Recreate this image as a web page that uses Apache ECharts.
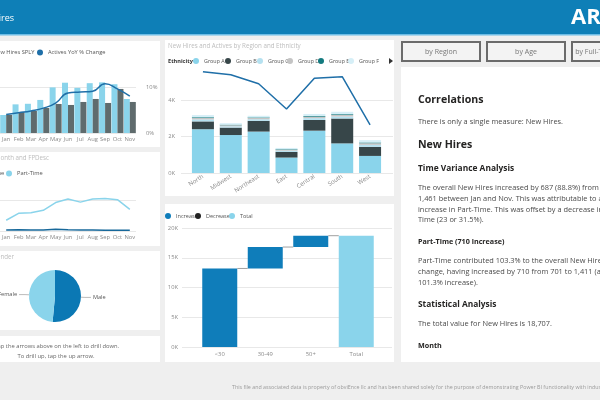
<!DOCTYPE html>
<html><head><meta charset="utf-8">
<script src="https://cdn.jsdelivr.net/npm/echarts@6/dist/echarts.min.js"></script>
<style>html,body{margin:0;padding:0;background:#efefef;}#c{width:600px;height:400px;}</style>
</head><body><div id="c"></div>
<script>
// ---- data ----
const months = ['Jan','Feb','Mar','Apr','May','Jun','Jul','Aug','Sep','Oct','Nov'];
const newHires = [774,1230,1255,1420,1960,2160,1940,2140,2175,2095,1461];
const newHiresSPLY = [780,900,946,1075,1247,1204,1333,1462,1290,1892,1333];
const activesYoY = [4.0,4.4,4.8,5.4,6.5,8.7,8.9,9.1,10.7,9.6,8.0];
const fullTime = [73,80,65,70,110,80,60,60,55,55,50];
const partTime = [701,1150,1190,1350,1850,2080,1880,2080,2120,2040,1411];
const regions = ['North','Midwest','Northeast','East','Central','South','West'];
const groupA = [2410,2090,2280,850,2330,1630,940];
const groupB = [430,410,590,310,590,1370,500];
const groupC = [110,70,90,70,100,110,110];
const groupD = [80,60,70,50,80,90,90];
const groupE = [40,30,30,30,40,40,40];
const groupF = [120,80,90,70,110,130,130];
const activesByRegion = [5580,5410,4910,3520,5220,5300,2650];
const ageBands = ['<30','30-49','50+','Total'];
const ageHires = [13200,3600,1907];
const genders = ['Male','Female'];
const genderHires = [9630,9077];
const yoyTicks = [0,10];

// ---- derived ----
const FONT = '"Open Sans","Noto Sans","DejaVu Sans",sans-serif';
let cum = 0; const wfBase = [], wfInc = [], wfConn = [];
ageHires.forEach((v,i)=>{ wfBase.push(cum); wfInc.push(v); cum += v; wfConn.push([i,cum]); });
const wfTotal = cum;
wfBase.push('-'); wfInc.push('-');
const totalArr = ageHires.map(()=> '-').concat([wfTotal]);
const groups = [['Group A',groupA,'#8ad4eb'],['Group B',groupB,'#374649'],['Group C',groupC,'#b5e1f0'],
  ['Group D',groupD,'#c4c4c4'],['Group E',groupE,'#137a7f'],['Group F',groupF,'#d6eff7']];

function txt(text,x,y,size,color,opt){
  opt = opt||{};
  return {type:'text', x:x, y:y, z:100, silent:true, style:{text:text, fill:color,
    font:(opt.bold?'bold ':'')+size+'px '+FONT, textAlign:opt.align||'left', textVerticalAlign:'middle'}};
}
function rect(x,y,w,h,fill,stroke,lw){
  return {type:'rect', z:-5, silent:true, shape:{x:x,y:y,width:w,height:h},
    style:{fill:fill, stroke:stroke||null, lineWidth:lw||0}};
}

const bodyC = '#4a4a4a', headC = '#252423';
const BS = 7.4;
const graphics = [
  rect(0,0,600,34,'#0e7fb7'), rect(0,34,600,1.5,'#6dbde6'),
  rect(0,41,160,106,'#fff'), rect(0,152,160,94,'#fff'), rect(0,251,160,79,'#fff'), rect(0,336,160,26,'#fff'),
  rect(165,40,229,156,'#fff'), rect(165,204,229,158,'#fff'), rect(401,67,199,295,'#fff'),
  rect(402,42,78,19,'#f3f3f3','#6b6b6b',2), rect(487,42,78,19,'#f3f3f3','#6b6b6b',2), rect(572,42,80,19,'#f3f3f3','#6b6b6b',2),
  txt('New Hires',14,18,9,'#fff',{align:'right'}),
  txt('AR',571,18,22,'#fff',{bold:true}),
  txt('by Region',441,52,7,'#777',{align:'center'}),
  txt('by Age',526,52,7,'#777',{align:'center'}),
  txt('by Full-Time/Part-Time',612,52,7,'#777',{align:'center'}),
  txt('New Hires by Month and FPDesc',49,158,6.2,'#bdbdbd',{align:'right'}),
  txt('New Hires by Gender',14,257,6.2,'#bdbdbd',{align:'right'}),
  txt('Tap the arrows above on the left to drill down.',119,346,5.8,'#666',{align:'right'}),
  txt('To drill up, tap the up arrow.',56,356,5.8,'#666',{align:'center'}),
  txt('New Hires and Actives by Region and Ethnicity',168,46,6.2,'#bdbdbd'),
  txt('Ethnicity',168,61,5.6,'#333',{bold:true}),
  {type:'polygon', z:100, silent:true, shape:{points:[[389,58],[393,61],[389,64]]}, style:{fill:'#333'}},
  txt('Correlations',418,100,10.6,headC,{bold:true}),
  txt('There is only a single measure: New Hires.',418,122,BS,bodyC),
  txt('New Hires',418,145,10.6,headC,{bold:true}),
  txt('Time Variance Analysis',418,169,8.4,headC,{bold:true}),
  txt('The overall New Hires increased by 687 (88.8%) from 774 to',418,188,BS,bodyC),
  txt('1,461 between Jan and Nov. This was attributable to an',418,199,BS,bodyC),
  txt('increase in Part-Time. This was offset by a decrease in Full-',418,209.5,BS,bodyC),
  txt('Time (23 or 31.5%).',418,220,BS,bodyC),
  txt('Part-Time (710 increase)',418,242,7.2,headC,{bold:true}),
  txt('Part-Time contributed 103.3% to the overall New Hires',418,261,BS,bodyC),
  txt('change, having increased by 710 from 701 to 1,411 (a',418,272,BS,bodyC),
  txt('101.3% increase).',418,283,BS,bodyC),
  txt('Statistical Analysis',418,305,8.4,headC,{bold:true}),
  txt('The total value for New Hires is 18,707.',418,324,BS,bodyC),
  txt('Month',418,346,7.2,headC,{bold:true}),
  txt('This file and associated data is property of obviEnce llc and has been shared solely for the purpose of demonstrating Power BI functionality with industry sample data.',232,387,5.3,'#9a9a9a')
];

const lab = {fontSize:5.8, color:'#8a8a8a', fontFamily:FONT};
const catX = (grid, data, extra) => Object.assign({type:'category', gridIndex:grid, data:data, boundaryGap:true,
  axisLine:{show:false}, axisTick:{show:false}, axisLabel:Object.assign({margin:3, interval:0}, lab)}, extra||{});
const hiddenY = (grid, max) => ({type:'value', gridIndex:grid, min:0, max:max, show:false});
const kFmt = v => (v/1000)+'K';
const split = {show:true, lineStyle:{color:'#e8e8e8', width:1}};
const leg = (name, left, top, fs, iw) => ({data:[name], left:left, top:top, padding:0, icon:'circle',
  itemWidth:iw||6, itemHeight:iw||6, itemGap:0, textStyle:{fontSize:fs, color:'#555'}});

const option = {
  animation:false,
  backgroundColor:'#efefef',
  textStyle:{fontFamily:FONT},
  graphic:{elements:graphics},
  legend:[
    leg('New Hires', -64, 49.5, 5.7),
    leg('New Hires SPLY', -18, 49.5, 5.7),
    leg('Actives YoY % Change', 37, 49.5, 5.7),
    leg('Full-Time', -31, 170.5, 5.7),
    leg('Part-Time', 6, 170.5, 5.7),
    ...groups.map((g,i)=> leg(g[0], [193,225,257,287,318,348][i], 58, 5.4)),
    leg('Increase', 165, 213, 5.5),
    leg('Decrease', 195, 213, 5.5),
    leg('Total', 229, 213, 5.5)
  ],
  grid:[
    {left:-30, top:72, width:166, height:61},
    {left:-30, top:188, width:166, height:43},
    {left:189, top:64, width:195, height:109},
    {left:181, top:64, width:212, height:109},
    {left:197, top:228, width:182, height:119},
    {left:182, top:228, width:210, height:119}
  ],
  xAxis:[
    catX(0, months),
    catX(1, months),
    catX(2, regions, {axisLabel:Object.assign({}, lab, {fontSize:6, rotate:33, margin:3, interval:0})}),
    {type:'value', gridIndex:3, show:false, min:0, max:1},
    catX(4, ageBands, {axisLabel:Object.assign({}, lab, {margin:4, interval:0})}),
    {type:'value', gridIndex:5, show:false, min:0, max:1}
  ],
  yAxis:[
    hiddenY(0, 2620),
    {type:'value', gridIndex:0, position:'right', min:0, max:13.26, interval:10,
      axisLine:{show:false}, axisTick:{show:false},
      axisLabel:Object.assign({margin:10, formatter:v=> yoyTicks.includes(v)? v+'%' : '', showMaxLabel:false}, lab),
      splitLine:Object.assign({showMaxLine:false}, split)},
    {type:'value', gridIndex:1, min:0, max:2800, interval:2000, axisLine:{show:false}, axisTick:{show:false},
      axisLabel:{show:false}, splitLine:Object.assign({showMaxLine:false}, split)},
    hiddenY(2, 6000),
    {type:'value', gridIndex:3, min:0, max:6000, interval:2000, axisLine:{show:false}, axisTick:{show:false},
      axisLabel:Object.assign({margin:6, formatter:kFmt, showMaxLabel:false}, lab),
      splitLine:Object.assign({showMaxLine:false}, split)},
    hiddenY(4, 20000),
    {type:'value', gridIndex:5, min:0, max:20000, interval:5000, axisLine:{show:false}, axisTick:{show:false},
      axisLabel:Object.assign({margin:4, formatter:kFmt}, lab), splitLine:split}
  ],
  series:[
    {name:'New Hires', type:'bar', xAxisIndex:0, yAxisIndex:0, data:newHires, barWidth:6, barGap:'0%', itemStyle:{color:'#8ad4eb'}},
    {name:'New Hires SPLY', type:'bar', xAxisIndex:0, yAxisIndex:0, data:newHiresSPLY, barWidth:6, barGap:'0%', itemStyle:{color:'#5f6b6d'}},
    {name:'Actives YoY % Change', type:'line', xAxisIndex:0, yAxisIndex:1, data:activesYoY, smooth:true, showSymbol:false,
      itemStyle:{color:'#1f6fa8'}, lineStyle:{color:'#1f6fa8', width:1.5}, z:5},
    {name:'Full-Time', type:'line', xAxisIndex:1, yAxisIndex:2, data:fullTime, showSymbol:false,
      itemStyle:{color:'#17689a'}, lineStyle:{color:'#17689a', width:1.5}},
    {name:'Part-Time', type:'line', xAxisIndex:1, yAxisIndex:2, data:partTime, showSymbol:false,
      itemStyle:{color:'#8ad4eb'}, lineStyle:{color:'#8ad4eb', width:1.5}},
    ...groups.map(g=>({name:g[0], type:'bar', stack:'eth', xAxisIndex:2, yAxisIndex:3, data:g[1], barWidth:22, itemStyle:{color:g[2]}})),
    {name:'Actives', type:'line', xAxisIndex:2, yAxisIndex:3, data:activesByRegion, showSymbol:false,
      lineStyle:{color:'#1f6fa8', width:1.5}, itemStyle:{color:'#1f6fa8'}, z:5},
    {name:'base', type:'bar', stack:'wf', xAxisIndex:4, yAxisIndex:5, data:wfBase, barWidth:35, silent:true,
      itemStyle:{color:'rgba(0,0,0,0)'}},
    {name:'Increase', type:'bar', stack:'wf', xAxisIndex:4, yAxisIndex:5, data:wfInc, barWidth:35, itemStyle:{color:'#0f7dba'}},
    {name:'Decrease', type:'bar', stack:'wf', xAxisIndex:4, yAxisIndex:5, data:ageBands.map(()=>'-'), barWidth:35, itemStyle:{color:'#222'}},
    {name:'Total', type:'bar', stack:'wf', xAxisIndex:4, yAxisIndex:5, data:totalArr, barWidth:35, itemStyle:{color:'#8ad4eb'}},
    {name:'connectors', type:'custom', xAxisIndex:4, yAxisIndex:5, data:wfConn, silent:true, z:4,
      renderItem:function(params, api){
        const p = api.coord([api.value(0), api.value(1)]);
        const band = api.size([1,0])[0];
        const bw = 35;
        return {type:'line', shape:{x1:p[0]+bw/2, y1:p[1], x2:p[0]+band-bw/2, y2:p[1]}, style:{stroke:'#a0a0a0', lineWidth:1}};
      }},
    {name:'Gender', type:'pie', center:[55,296], radius:26, startAngle:90, clockwise:true,
      data:genders.map((g,i)=>({name:g, value:genderHires[i], itemStyle:{color: i===0?'#0b78b4':'#8ad4eb'}})),
      label:{show:true, formatter:'{b}', fontSize:5.6, color:'#555', distanceToLabelLine:2, overflow:'none'},
      labelLine:{length:4, length2:6, lineStyle:{color:'#bbb', width:1}}}
  ]
};
const chart = echarts.init(document.getElementById('c'), null, {renderer:'canvas'});
chart.setOption(option);
</script></body></html>
